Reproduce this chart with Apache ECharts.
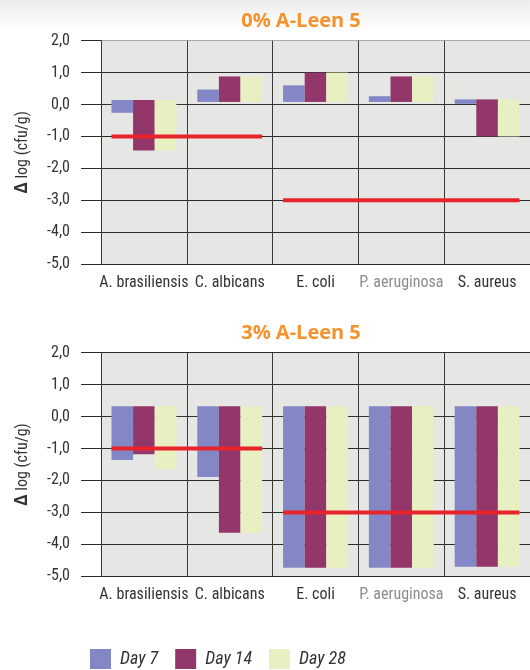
<!DOCTYPE html>
<html>
<head>
<meta charset="utf-8">
<script src="https://cdn.jsdelivr.net/npm/echarts@6/dist/echarts.min.js"></script>
<style>
html,body{margin:0;padding:0;background:#fff;}
#c{width:530px;height:670px;}
</style>
</head>
<body>
<div id="c"></div>
<script>
const categories = ['A. brasiliensis', 'C. albicans', 'E. coli', 'P. aeruginosa', 'S. aureus'];
const seriesNames = ['Day 7', 'Day 14', 'Day 28'];
const yTicks = [-5, -4, -3, -2, -1, 0, 1, 2];

// Panel 1: 0% A-Leen 5 (bars drawn from a start value to an end value)
const start0 = [0.14, 0.08, 0.08, 0.08, 0.16];
const day7_0 = [-0.26, 0.47, 0.60, 0.26, 0.02];
const day14_0 = [-1.44, 0.88, 1.00, 0.88, -1.00];
const day28_0 = [-1.44, 0.88, 1.00, 0.88, -1.00];
const limits0 = [[0, 1, -1], [2, 4, -3]];

// Panel 2: 3% A-Leen 5
const start3 = [0.32, 0.32, 0.32, 0.32, 0.32];
const day7_3 = [-1.36, -1.89, -4.73, -4.73, -4.70];
const day14_3 = [-1.18, -3.64, -4.73, -4.73, -4.70];
const day28_3 = [-1.64, -3.64, -4.73, -4.73, -4.70];
const limits3 = [[0, 1, -1], [2, 4, -3]];

const colors = ['#8387c5', '#93366a', '#e8efc0'];

// pick the narrowest installed font among candidates
function pickFont() {
  const cands = ['Liberation Sans Narrow', 'DejaVu Sans Condensed', 'Roboto Condensed', 'Noto Sans Condensed', 'Roboto'];
  const ctx = document.createElement('canvas').getContext('2d');
  const txt = 'A. brasiliensis C. albicans';
  ctx.font = '16px monospace';
  const mono = ctx.measureText(txt).width;
  ctx.font = '16px serif';
  const ser = ctx.measureText(txt).width;
  let best = 'Roboto', bw = Infinity;
  cands.forEach(f => {
    ctx.font = "16px '" + f + "', monospace";
    const w1 = ctx.measureText(txt).width;
    ctx.font = "16px '" + f + "', serif";
    const w2 = ctx.measureText(txt).width;
    const installed = Math.abs(w1 - mono) > 0.5 || Math.abs(w2 - ser) > 0.5;
    if (installed && Math.abs(w1 - w2) < 0.5 && w1 < bw) { bw = w1; best = f; }
  });
  return best;
}
const FONT = "'" + pickFont() + "', sans-serif";
const BAR_FRAC = 0.252;

function barRender(k) {
  return function (params, api) {
    const cat = api.value(0);
    const cw = api.size([1, 0])[0];
    const bw = cw * BAR_FRAC;
    const s = api.coord([cat, api.value(1)]);
    const e = api.coord([cat, api.value(2)]);
    const x = s[0] + (k - 1) * bw - bw / 2;
    return {
      type: 'rect',
      shape: { x: x, y: Math.min(s[1], e[1]), width: bw, height: Math.abs(e[1] - s[1]) },
      style: { fill: api.visual('color') }
    };
  };
}
function limitRender(params, api) {
  const cw = api.size([1, 0])[0];
  const half = cw * BAR_FRAC * 1.5;
  const s = api.coord([api.value(0), api.value(2)]);
  const e = api.coord([api.value(1), api.value(2)]);
  return {
    type: 'line',
    shape: { x1: s[0] - half, y1: s[1], x2: e[0] + half, y2: e[1] },
    style: { stroke: '#e8232a', lineWidth: 4 },
    z2: 10
  };
}

function panelSeries(idx, start, days, limits) {
  const out = days.map((vals, k) => ({
    type: 'custom',
    name: seriesNames[k],
    xAxisIndex: idx, yAxisIndex: idx,
    itemStyle: { color: colors[k] },
    renderItem: barRender(k),
    encode: { x: 0, y: [1, 2] },
    data: vals.map((v, i) => [i, start[i], v]),
    z: 2
  }));
  out.push({
    type: 'custom',
    name: 'limit',
    xAxisIndex: idx, yAxisIndex: idx,
    renderItem: limitRender,
    encode: { x: [0, 1], y: 2 },
    data: limits,
    z: 5,
    silent: true
  });
  return out;
}

const catData = categories.map(c => c === 'P. aeruginosa'
  ? { value: c, textStyle: { color: '#8c8c8c' } } : c);

function xAxis(idx) {
  return {
    type: 'category', gridIndex: idx, data: catData, boundaryGap: true,
    axisTick: { show: false },
    axisLine: { lineStyle: { color: '#333', width: 1.2 } },
    splitLine: { show: true, lineStyle: { color: '#3a3a3a', width: 1 } },
    axisLabel: { interval: 0, margin: 11, fontSize: 16, fontFamily: FONT, color: '#333' }
  };
}
function yAxis(idx, topColor) {
  const lineColors = yTicks.map((t, i) => i === yTicks.length - 1 ? topColor : '#2a2a2a');
  return {
    type: 'value', gridIndex: idx, min: -5, max: 2, interval: 1,
    axisLine: { show: true, lineStyle: { color: '#3a3a3a', width: 1 } },
    axisTick: { show: true, length: 20, lineStyle: { color: '#2a2a2a' } },
    splitLine: { show: true, lineStyle: { color: lineColors, width: 1.2 } },
    axisLabel: {
      margin: 31, fontSize: 16, fontFamily: FONT, color: '#333',
      padding: [0, 0, 8, 0],
      formatter: v => v.toFixed(1).replace('.', ',')
    },
    name: '{d|Δ} log (cfu/g)',
    nameLocation: 'middle', nameRotate: 90, nameGap: 70,
    nameTextStyle: {
      fontSize: 16, fontFamily: FONT, color: '#333',
      rich: { d: { fontSize: 17, fontWeight: 'bold', fontFamily: 'Open Sans', color: '#333' } }
    }
  };
}

const chart = echarts.init(document.getElementById('c'), null, { renderer: 'canvas' });
chart.setOption({
  animation: false,
  backgroundColor: '#ffffff',
  graphic: [{
    type: 'rect', left: 0, top: 0, z: -10,
    shape: { width: 530, height: 30 },
    style: {
      fill: new echarts.graphic.LinearGradient(0, 0, 0, 1, [
        { offset: 0, color: '#ececec' }, { offset: 1, color: '#ffffff' }
      ])
    }
  }],
  title: [
    { text: '0% A-Leen 5', left: 296, top: 6, textAlign: 'center',
      textStyle: { color: '#f7922b', fontSize: 20, fontWeight: 'bold', fontFamily: 'Open Sans' } },
    { text: '3% A-Leen 5', left: 296, top: 318, textAlign: 'center',
      textStyle: { color: '#f7922b', fontSize: 20, fontWeight: 'bold', fontFamily: 'Open Sans' } }
  ],
  legend: {
    data: seriesNames, left: 85, top: 644,
    icon: 'rect', itemWidth: 21, itemHeight: 20, itemGap: 17,
    textStyle: { fontSize: 18, fontStyle: 'italic', fontFamily: FONT, color: '#333', padding: [0, 0, 0, 4] },
    selectedMode: false
  },
  grid: [
    { left: 101, width: 432, top: 40.7, height: 223.3, show: true, backgroundColor: '#e6e7e5', borderWidth: 0 },
    { left: 101, width: 432, top: 352.7, height: 223.6, show: true, backgroundColor: '#e6e7e5', borderWidth: 0 }
  ],
  xAxis: [xAxis(0), xAxis(1)],
  yAxis: [yAxis(0, '#a8a8a8'), yAxis(1, '#2a2a2a')],
  series: [
    ...panelSeries(0, start0, [day7_0, day14_0, day28_0], limits0),
    ...panelSeries(1, start3, [day7_3, day14_3, day28_3], limits3)
  ]
});
</script>
</body>
</html>
